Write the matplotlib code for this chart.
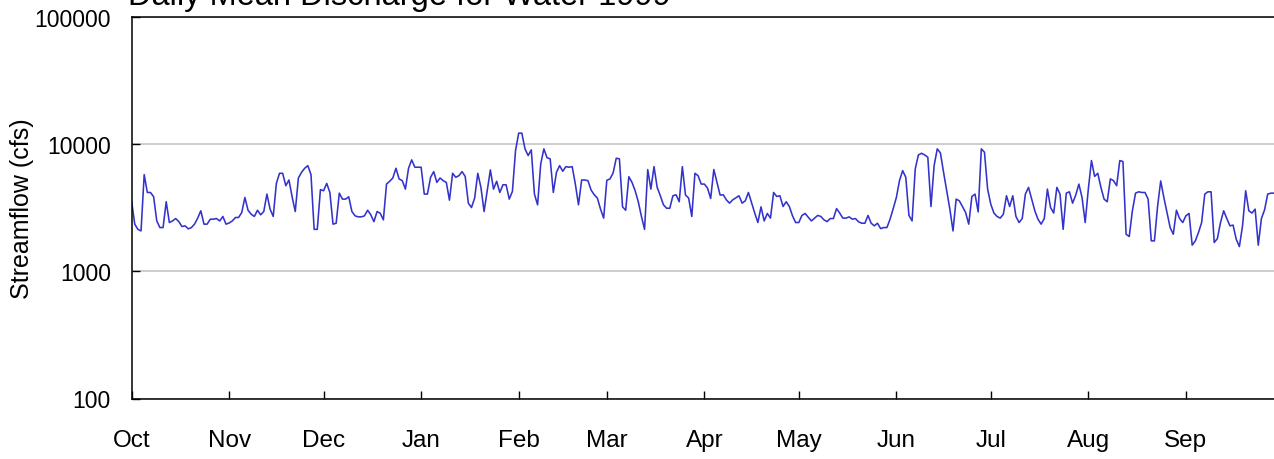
import matplotlib
matplotlib.use("Agg")
import matplotlib.pyplot as plt
import numpy as np
import pandas as pd

plt.rcParams['font.family'] = ['Liberation Sans', 'DejaVu Sans']

title = "Daily Mean Discharge for Water 1999"
ylabel = "Streamflow (cfs)"

oct_ = [3540, 2340, 2130, 2070, 5730, 4150, 4150, 3840, 2480, 2200, 2200, 3510, 2410, 2480, 2590, 2450,
        2240, 2270, 2150, 2200, 2340, 2610, 2980, 2340, 2340, 2560, 2560, 2590, 2480, 2690, 2340]
nov = [2390, 2480, 2640, 2640, 2890, 3790, 3010, 2800, 2690, 3010, 2770, 2940, 4030, 3070, 2690, 4890,
       5870, 5870, 4690, 5200, 3840, 2940, 5390, 5980, 6430, 6740, 5730, 2130, 2130, 4370]
dec = [4280, 4890, 4150, 2340, 2380, 4100, 3680, 3680, 3840, 2940, 2720, 2670, 2670, 2720, 3010, 2770,
       2450, 2940, 2850, 2530, 4830, 5080, 5390, 6430, 5300, 5140, 4410, 6430, 7480, 6550, 6550]
jan = [6550, 4030, 4030, 5460, 6050, 4980, 5390, 5140, 4980, 3610, 5870, 5460, 5620, 6050, 5550, 3420,
       3160, 3750, 5870, 4550, 2940, 4280, 6240, 4410, 5080, 4150, 4770, 4770, 3680, 4230, 8860]
feb = [12130, 12130, 9130, 8090, 8960, 4030, 3320, 6950, 9130, 7780, 7620, 4150, 5980, 6740, 6090, 6620,
       6550, 6620, 4830, 3320, 5200, 5200, 5140, 4340, 3980, 3750, 3070, 2610]
mar = [5170, 5300, 5900, 7710, 7620, 3200, 3010, 5520, 4980, 4280, 3510, 2690, 2130, 6280, 4410, 6620,
       4550, 3910, 3320, 3120, 3120, 3910, 3980, 3510, 6620, 3960, 3750, 2690, 5870, 5620, 4830]
apr = [4830, 4490, 3720, 6280, 4980, 3960, 3980, 3630, 3420, 3630, 3770, 3910, 3420, 3570, 4150, 3440,
       2860, 2410, 3200, 2480, 2840, 2610, 4150, 3860, 3910, 3220, 3510, 3220, 2720, 2410]
may = [2410, 2740, 2840, 2650, 2480, 2610, 2740, 2690, 2530, 2450, 2590, 2590, 3100, 2860, 2610, 2610,
       2670, 2560, 2590, 2440, 2380, 2380, 2740, 2380, 2270, 2380, 2160, 2200, 2200, 2560, 3100]
jun = [3790, 5140, 6160, 5460, 2740, 2480, 6350, 8180, 8430, 8180, 7850, 3220, 6740, 9130, 8490, 5980,
       4280, 3070, 2070, 3680, 3570, 3220, 2890, 2340, 3860, 4030, 2920, 9130, 8590, 4410]
jul = [3360, 2860, 2690, 2610, 2800, 3910, 3220, 3910, 2690, 2410, 2590, 4030, 4550, 3680, 2980, 2560,
       2340, 2590, 4410, 3160, 2860, 4550, 4030, 2130, 4100, 4200, 3420, 3960, 4830, 3790, 2410]
aug = [4410, 7390, 5550, 5870, 4550, 3680, 3510, 5300, 5140, 4690, 7390, 7260, 1950, 1870, 2980, 4100,
       4200, 4150, 4150, 3680, 1730, 1730, 3220, 5110, 3790, 2890, 2200, 1950, 3010, 2590, 2410]
sep = [2720, 2840, 1600, 1730, 2010, 2410, 4030, 4200, 4200, 1680, 1800, 2410, 2980, 2590, 2270, 2300,
       1780, 1560, 2270, 4280, 2980, 2860, 3070, 1600, 2590, 3030, 4030, 4100, 4100, 4030]

month_labels = ["Oct", "Nov", "Dec", "Jan", "Feb", "Mar", "Apr", "May", "Jun", "Jul", "Aug", "Sep"]

flow = np.concatenate([oct_, nov, dec, jan, feb, mar, apr, may, jun, jul, aug, sep])
dates = pd.date_range("1998-10-01", periods=len(flow), freq="D")
month_starts = pd.date_range("1998-10-01", periods=12, freq="MS")

W, H = 1274, 460
fig = plt.figure(figsize=(W / 100, H / 100), dpi=100)
left_px, right_px = 131.6, 1280.3
top_px, bottom_px = 17.5, 399.5
ax = fig.add_axes([left_px / W, 1 - bottom_px / H, (right_px - left_px) / W, (bottom_px - top_px) / H])

ax.plot(dates, flow, color="#3333CC", lw=1.15, solid_joinstyle="round")

ax.set_yscale("log")
ax.set_ylim(100, 100000)
ax.set_xlim(pd.Timestamp("1998-10-01"), pd.Timestamp("1999-10-01"))
ax.set_yticks([100, 1000, 10000, 100000])
ax.set_yticklabels(["100", "1000", "10000", "100000"])
ax.yaxis.set_minor_locator(matplotlib.ticker.NullLocator())
ax.set_xticks(month_starts)
ax.set_xticklabels(month_labels)

ax.grid(axis="y", which="major", color="#C0C0C0", lw=1.1)
ax.set_axisbelow(True)
for s in ["left", "bottom", "top"]:
    ax.spines[s].set_color("black")
    ax.spines[s].set_linewidth(1.1)
ax.spines["right"].set_visible(False)

ax.tick_params(axis="both", direction="in", length=5.8, width=1.0, color="black")
ax.tick_params(axis="x", pad=22, labelsize=17.5)
ax.tick_params(axis="y", pad=15, labelsize=16.5)
ax.set_ylabel(ylabel, fontsize=18)
ax.yaxis.set_label_coords((34 - left_px) / (right_px - left_px), 0.5)

fig.text(128 / W, 1 - 5 / H, title, fontsize=23.5, ha="left", va="baseline")

fig.savefig("out.png", dpi=100)
